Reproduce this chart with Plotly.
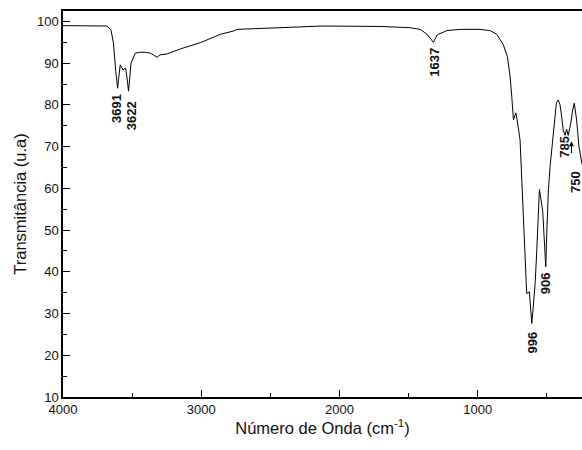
import plotly.graph_objects as go

# Spectrum (x in axis units, y = transmittance)
wavenumber = [4000, 3875, 3730, 3682, 3653, 3636, 3618, 3605, 3597, 3586, 3566, 3547, 3535, 3526,
              3517, 3508, 3477, 3441, 3405, 3369, 3347, 3320, 3297, 3248, 3152, 3007, 2863, 2767,
              2742, 2670, 2501, 2284, 2118, 1923, 1706, 1490, 1417, 1369, 1345, 1321, 1309, 1292,
              1224, 1128, 984, 935, 911, 862, 815, 786, 766, 754, 742, 725, 715, 694, 679, 657,
              646, 627, 623, 609, 600, 585, 573, 561, 554, 542, 530, 520, 508, 501, 489, 477,
              465, 458, 441, 431, 418, 405, 393, 382, 369, 357, 346, 328, 315, 302, 285, 268, 246]
transmittance = [99.0, 99.0, 98.95, 98.9, 98.0, 95.0, 88.0, 84.0, 86.5, 89.6, 88.4, 88.8, 86.0, 83.3,
                 86.5, 90.0, 92.4, 92.6, 92.6, 92.4, 92.0, 91.4, 92.0, 92.2, 93.4, 94.9, 96.9, 97.7,
                 98.1, 98.2, 98.5, 98.8, 98.9, 98.85, 98.8, 98.5, 98.1, 97.0, 96.0, 95.0, 95.8, 96.8,
                 97.8, 98.1, 98.1, 98.0, 97.8, 96.9, 94.4, 91.6, 86.8, 82.0, 76.4, 78.1, 76.4, 71.6, 60.0, 43.0,
                 34.8, 35.2, 33.0, 27.6, 31.0, 37.2, 45.2, 57.2, 59.7, 57.2, 54.4, 48.4, 41.2, 49.2, 59.6, 65.2,
                 69.2, 71.6, 78.8, 80.5, 81.2, 80.0, 77.2, 74.0, 72.7, 74.2, 72.7, 75.4, 78.5, 80.4, 76.4, 70.0, 65.8]

# Peak labels
peak_labels = ["3691", "3622", "1637", "996", "906", "785", "750"]
peak_x = [3615, 3508, 1314, 607, 508, 378, 298]
peak_y = [79.1, 77.3, 90.2, 23.1, 37.2, 69.9, 61.5]

x_ticks = [4000, 3000, 2000, 1000]
y_ticks = [10, 20, 30, 40, 50, 60, 70, 80, 90, 100]

FONT = "Arial, 'Liberation Sans', sans-serif"

fig = go.Figure()
fig.add_trace(go.Scatter(x=wavenumber, y=transmittance, mode="lines",
                         line=dict(color="black", width=1), showlegend=False,
                         hoverinfo="skip"))

for t, x, y in zip(peak_labels, peak_x, peak_y):
    fig.add_annotation(x=x, y=y, text="<b>%s</b>" % t, showarrow=False, textangle=-90,
                       font=dict(family=FONT, size=13, color="#111"),
                       xanchor="center", yanchor="middle")

# arrow pointing at the 750 band
fig.add_annotation(x=322, y=71.3, text=" ", showarrow=True, arrowhead=2, arrowsize=1,
                   arrowwidth=1, arrowcolor="black", ax=0, ay=21)

fig.update_layout(
    width=582, height=450,
    margin=dict(l=63, r=0, t=11, b=53),
    paper_bgcolor="white", plot_bgcolor="white",
    font=dict(family=FONT, size=13, color="#111"),
    xaxis=dict(range=[4000, 246], tickvals=x_ticks, ticks="inside", ticklen=7, tickwidth=1,
               tickcolor="black", showline=True, linecolor="black", linewidth=1.5,
               mirror=True, showgrid=False, zeroline=False, automargin=False,
               minor=dict(tickvals=[3500, 2500, 1500, 500], ticks="inside", ticklen=4,
                          tickcolor="black", tickwidth=1),
               title=dict(text="Número de Onda (cm<sup>-1</sup>)", font=dict(size=16.5), standoff=6),
               tickfont=dict(size=13)),
    yaxis=dict(range=[10, 102.5], tickvals=y_ticks, ticks="inside", ticklen=7, tickwidth=1,
               tickcolor="black", showline=True, linecolor="black", linewidth=1.5,
               mirror=False, showgrid=False, zeroline=False, automargin=False,
               minor=dict(tickvals=[15, 25, 35, 45, 55, 65, 75, 85, 95], ticks="inside", ticklen=4,
                          tickcolor="black", tickwidth=1),
               title=dict(text="Transmitância (u.a)", font=dict(size=16.5), standoff=6),
               tickfont=dict(size=13)),
)

fig.write_html("out.html", config={"displayModeBar": False},
               post_script="document.body.style.margin='0';document.body.style.overflow='hidden';")
